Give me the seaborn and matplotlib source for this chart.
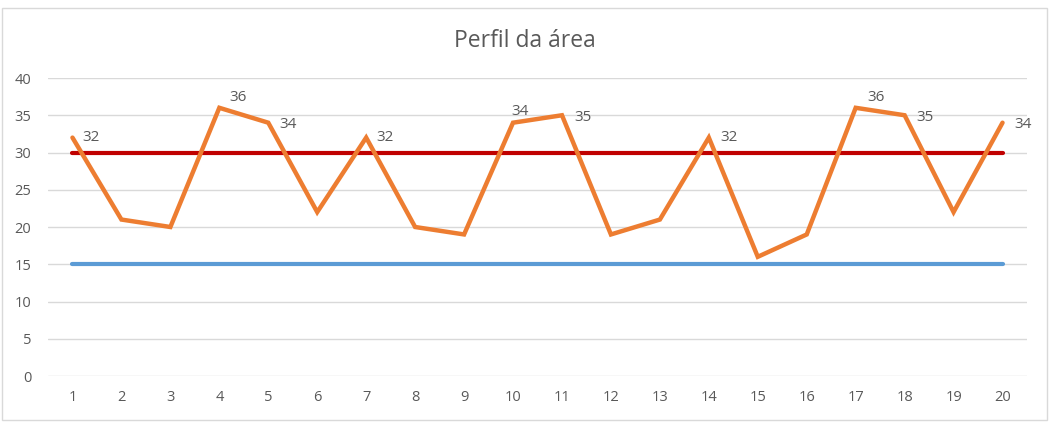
import matplotlib
matplotlib.use("Agg")
import matplotlib.pyplot as plt
from matplotlib.patches import Rectangle
import seaborn as sns
import pandas as pd

# Sample positions and measured profile
pontos = list(range(1, 21))
perfil = [32, 21, 20, 36, 34, 22, 32, 20, 19, 34, 35, 19, 21, 32, 16, 19, 36, 35, 22, 34]
limite_superior = [30] * 20
limite_inferior = [15] * 20

yticks = [0, 5, 10, 15, 20, 25, 30, 35, 40]

df = pd.DataFrame({
    "ponto": pontos,
    "perfil": perfil,
    "sup": limite_superior,
    "inf": limite_inferior,
})

sns.set_theme(style="white")
plt.rcParams["font.family"] = ["Open Sans", "DejaVu Sans"]

fig = plt.figure(figsize=(10.5, 4.25), dpi=100)
ax = fig.add_axes([48 / 1050, 1 - 376 / 425, (1027 - 48) / 1050, (376 - 78) / 425])

ORANGE = "#ED7D31"
RED = "#C00000"
BLUE = "#5B9BD5"
GRID = "#D9D9D9"
TXT = "#595959"

sns.lineplot(data=df, x="ponto", y="inf", ax=ax, color=BLUE, linewidth=3.0,
             solid_capstyle="round", zorder=3)
sns.lineplot(data=df, x="ponto", y="sup", ax=ax, color=RED, linewidth=3.0,
             solid_capstyle="round", zorder=4)
sns.lineplot(data=df, x="ponto", y="perfil", ax=ax, color=ORANGE, linewidth=3.2,
             solid_joinstyle="miter", zorder=5)

# Label placement (offsets in pixels from each labelled point)
offsets = {0: (10, 0), 3: (10, 10), 4: (11, -2), 6: (10, 0), 9: (-2, 11),
           10: (12, -2), 13: (12, 0), 16: (12, 10), 17: (12, -2), 19: (12, -2)}
for i, (x, v) in enumerate(zip(pontos, perfil)):
    if v > 30:
        dx, dy = offsets.get(i, (9, 0))
        ax.annotate(str(v), (x, v), xytext=(dx * 0.72, dy * 0.72),
                    textcoords="offset points", ha="left", va="center",
                    fontsize=11, color=TXT, zorder=6)

ax.set_xlim(0.5, 20.5)
ax.set_ylim(0, 40)
ax.set_xticks(pontos)
ax.set_yticks(yticks)
ax.yaxis.grid(True, color=GRID, linewidth=1.0)
ax.set_axisbelow(True)
for s in ax.spines.values():
    s.set_visible(False)
ax.tick_params(axis="both", length=0, labelsize=10.5, labelcolor=TXT, pad=10)
ax.tick_params(axis="y", pad=12)
ax.set_xlabel("")
ax.set_ylabel("")

fig.text(525 / 1050, 1 - 41 / 425, "Perfil da área", ha="center", va="center",
         fontsize=16.5, color=TXT)

fig.patches.append(Rectangle((2 / 1050, 1 - 420 / 425), (1047 - 2) / 1050,
                             (420 - 8) / 425, transform=fig.transFigure,
                             fill=False, edgecolor=GRID, linewidth=1.0))

fig.savefig("out.png", dpi=100, facecolor="white")
